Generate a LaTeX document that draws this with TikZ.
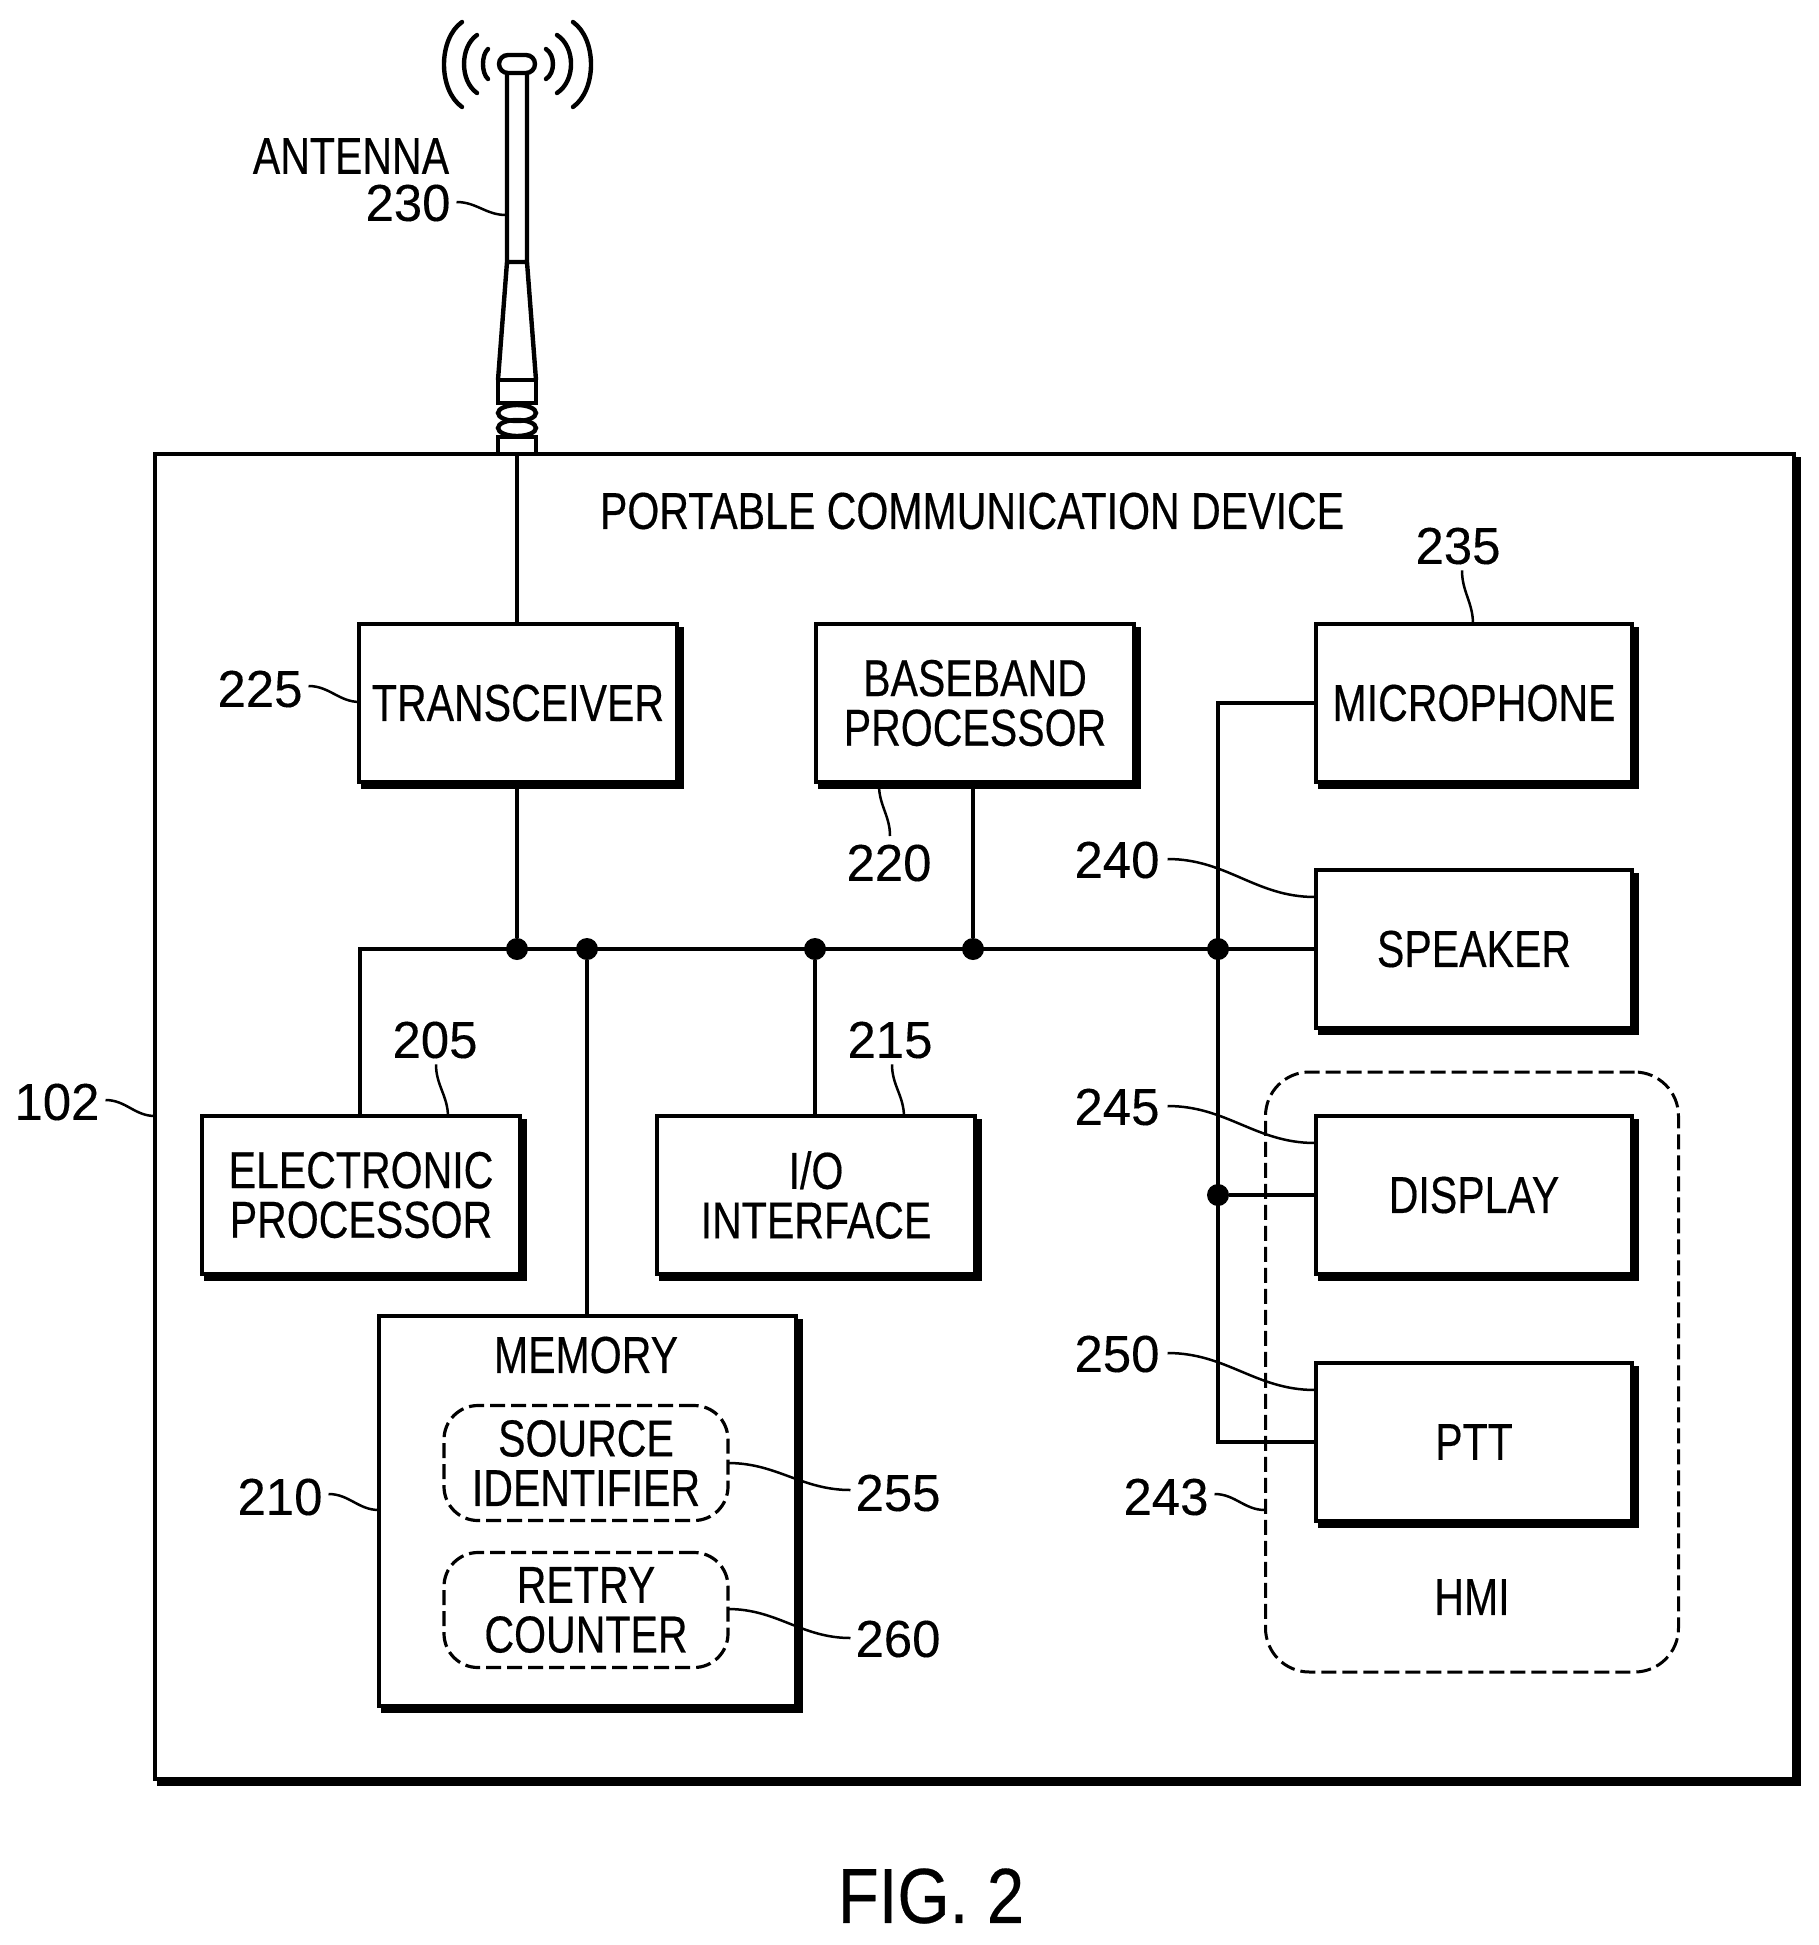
\documentclass[tikz,border=0pt]{standalone}
\usepackage{fontspec}
\usetikzlibrary{shadows,calc}
\setmainfont{Liberation Sans}
\newfontfamily\txtfont[FakeStretch=0.79,FakeBold=0.35]{Liberation Sans}
\newfontfamily\numfont[FakeStretch=0.98,FakeBold=0.2]{Liberation Sans}
\newfontfamily\figfont[FakeStretch=0.86,FakeBold=0.35]{Liberation Sans}
\tikzset{
  line/.style={draw=black,line width=2.3pt,line cap=butt},
  leader/.style={draw=black,line width=1.25pt},
  sbox/.style={draw=black,fill=white,line width=2.3pt,inner sep=0pt,outer sep=0pt,
    align=center,font=\txtfont\fontsize{26}{24.8}\selectfont,
    copy shadow={draw=black,fill=black,opacity=1,shadow xshift=2.3pt,shadow yshift=-2.4pt}},
  stdbox/.style={sbox,minimum width=159pt,minimum height=79pt},
  rightbox/.style={sbox,minimum width=158pt,minimum height=79pt},
  memdash/.style={draw=black,line width=1.6pt,dash pattern=on 7.5pt off 3pt,rounded corners=17pt,
    minimum width=142pt,minimum height=57.5pt,inner sep=0pt,outer sep=0pt,align=center,
    font=\txtfont\fontsize{26}{24.8}\selectfont},
  hmibox/.style={draw=black,line width=1.5pt,dash pattern=on 7.5pt off 3pt,rounded corners=22pt,
    minimum width=206.5pt,minimum height=300pt,inner sep=0pt,outer sep=0pt},
  lab/.style={inner sep=0pt,outer sep=0pt,align=center,font=\txtfont\fontsize{26}{24.8}\selectfont},
  num/.style={inner sep=0pt,outer sep=0pt,font=\numfont\fontsize{26}{26}\selectfont},
  jdot/.style={circle,fill=black,draw=none,minimum size=11pt,inner sep=0pt,outer sep=0pt},
}
\begin{document}
\begin{tikzpicture}[x=0.5pt,y=-0.5pt]
\useasboundingbox (0,0) rectangle (1819,1945);
\fill[white] (0,0) rectangle (1819,1945);
% device
\node[sbox,minimum width=819.5pt,minimum height=662.5pt] (device) at (974.5,1116.5) {};
% antenna
\begin{scope}[line width=2.2pt,draw=black]
  \draw (507,74) -- (507,262) -- (498,380) (527,74) -- (527,262) -- (536,380) (507,262) -- (527,262);
  \draw[rounded corners=4.5pt] (499,55) rectangle (535,73);
  \draw (498,380) rectangle (536,403);
  \draw (517,413) ellipse [x radius=19,y radius=8];
  \draw (517,428) ellipse [x radius=19,y radius=8];
  \draw (498,437) rectangle (536,454);
  \draw[line cap=round] (488,49) .. controls (481.3,55) and (481.3,73) .. (488,79);
  \draw[line cap=round] (477,35) .. controls (459.7,47) and (459.7,81) .. (477,93);
  \draw[line cap=round] (462,22) .. controls (438,39) and (438,90) .. (462,107);
  \draw[line cap=round] (546,49) .. controls (555.3,55) and (555.3,73) .. (546,79);
  \draw[line cap=round] (557,35) .. controls (575.7,47) and (575.7,81) .. (557,93);
  \draw[line cap=round] (573,22) .. controls (597,39) and (597,90) .. (573,107);
\end{scope}
% blocks
\node[stdbox] (tr) at (518,703) {TRANSCEIVER};
\node[stdbox] (bb) at (975,703) {BASEBAND\\PROCESSOR};
\node[rightbox] (mic) at (1474,703) {MICROPHONE};
\node[rightbox] (spk) at (1474,949) {SPEAKER};
\node[rightbox] (dsp) at (1474,1195) {DISPLAY};
\node[rightbox] (ptt) at (1474,1442) {PTT};
\node[stdbox] (ep) at (361,1195) {ELECTRONIC\\PROCESSOR};
\node[stdbox] (io) at (816,1195) {I/O\\INTERFACE};
\node[sbox,minimum width=208.5pt,minimum height=195pt] (mem) at (587.5,1511) {};
\node[lab] (memt) at (586,1355) {MEMORY};
\node[memdash] (src) at (586,1463) {SOURCE\\IDENTIFIER};
\node[memdash] (rty) at (586,1610) {RETRY\\COUNTER};
% junctions
\node[jdot] (j1) at (517,949) {};
\node[jdot] (j2) at (587,949) {};
\node[jdot] (j3) at (815,949) {};
\node[jdot] (j4) at (973,949) {};
\node[jdot] (j5) at (1218,949) {};
\node[jdot] (j6) at (1218,1195) {};
\coordinate (busl) at (360,949);
\coordinate (vt) at (1218,703);
\coordinate (vb) at (1218,1442);
% connectors
\draw[line] (device.north -| j1) -- (tr.north -| j1);
\draw[line] (tr.south -| j1) -- (j1);
\draw[line] (bb.south -| j4) -- (j4);
\draw[line] (ep.north -| busl) -- (busl) -- (spk.west);
\draw[line] (j2) -- (mem.north -| j2);
\draw[line] (j3) -- (io.north -| j3);
\draw[line] (mic.west) -- (vt) -- (vb) -- (ptt.west);
\draw[line] (j6) -- (dsp.west);
% hmi
\node[hmibox] (hmi) at (1472,1372) {};
\node[lab] (hmit) at (1472,1597) {HMI};
% labels
\node[lab] (ant) at (351,156) {ANTENNA};
\node[lab] (pcd) at (972,511) {PORTABLE COMMUNICATION DEVICE};
\node[num] (n230) at (408,203) {230};
\node[num] (n225) at (260,689) {225};
\node[num] (n235) at (1458,546) {235};
\node[num] (n220) at (889,863) {220};
\node[num] (n240) at (1117,860) {240};
\node[num] (n205) at (435,1040) {205};
\node[num] (n215) at (890,1040) {215};
\node[num] (n245) at (1117,1107) {245};
\node[num] (n102) at (57,1102) {102};
\node[num] (n250) at (1117,1354) {250};
\node[num] (n210) at (280,1497) {210};
\node[num] (n255) at (898,1493) {255};
\node[num] (n260) at (898,1639) {260};
\node[num] (n243) at (1166,1497) {243};
\node[inner sep=0pt,font=\figfont\fontsize{39}{39}\selectfont] (fig) at (931,1896) {FIG. 2};
% leaders
\coordinate (l230) at (506,215);
\coordinate (l225) at (360,702);
\coordinate (l235) at (1473,624);
\coordinate (l220) at (890,836);
\coordinate (l240) at (1315,897);
\coordinate (l205) at (448,1117);
\coordinate (l215) at (904,1117);
\coordinate (l245) at (1315,1143);
\coordinate (l250) at (1315,1390);
\coordinate (l102) at (155,1116);
\coordinate (l210) at (379,1510);
\coordinate (l243) at (1265,1510);
\coordinate (l255) at (728,1463);
\coordinate (l260) at (728,1609);
\draw[leader] ($(n230.east)+(6,-1)$) to[out=0,in=180] (l230);
\draw[leader] ($(n225.east)+(6,-3)$) to[out=0,in=180] (l225);
\draw[leader] ($(n235.south)+(4,6)$) to[out=-90,in=90] (l235);
\draw[leader] ($(bb.south)+(-96,3)$) to[out=-90,in=90] (l220);
\draw[leader] ($(n240.east)+(8,-1)$) to[out=0,in=180] (l240);
\draw[leader] ($(n205.south)+(1,6)$) to[out=-90,in=90] (l205);
\draw[leader] ($(n215.south)+(2,6)$) to[out=-90,in=90] (l215);
\draw[leader] ($(n245.east)+(8,-1)$) to[out=0,in=180] (l245);
\draw[leader] ($(n250.east)+(8,-1)$) to[out=0,in=180] (l250);
\draw[leader] ($(n102.east)+(6,-2)$) to[out=0,in=180] (l102);
\draw[leader] ($(n210.east)+(6,-3)$) to[out=0,in=180] (l210);
\draw[leader] ($(n243.east)+(6,-3)$) to[out=0,in=180] (l243);
\draw[leader] (l255) to[out=0,in=180] ($(n255.west)+(-5,-3)$);
\draw[leader] (l260) to[out=0,in=180] ($(n260.west)+(-5,-1)$);
\end{tikzpicture}
\end{document}
